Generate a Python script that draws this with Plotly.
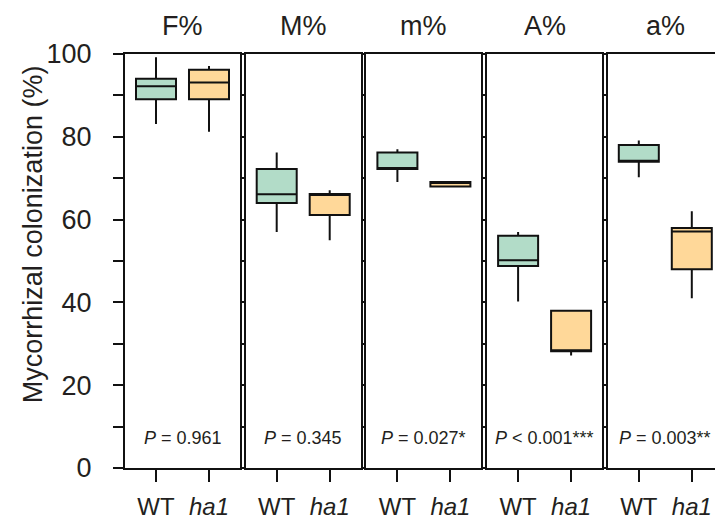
import plotly.graph_objects as go

categories = ["F%", "M%", "m%", "A%", "a%"]
groups = ["WT", "ha1"]

wt_min = [83.1, 57.0, 69.1, 40.2, 70.2]
wt_q1 = [89.1, 64.0, 72.2, 48.8, 74.0]
wt_med = [92.2, 66.1, 72.2, 50.2, 74.0]
wt_q3 = [94.0, 72.2, 76.2, 56.1, 78.0]
wt_max = [99.2, 76.2, 77.0, 57.0, 79.1]

ha1_min = [81.2, 55.0, 68.0, 27.2, 41.0]
ha1_q1 = [89.1, 61.1, 68.0, 28.2, 48.0]
ha1_med = [93.1, 66.2, 69.1, 28.2, 57.1]
ha1_q3 = [96.2, 66.2, 69.1, 38.0, 58.0]
ha1_max = [97.1, 67.1, 69.1, 38.0, 62.0]

p_labels = ["<i>P</i> = 0.961", "<i>P</i> = 0.345", "<i>P</i> = 0.027*",
            "<i>P</i> < 0.001***", "<i>P</i> = 0.003**"]

y_ticks = list(range(0, 101, 10))
y_ticktext = [str(v) if v % 20 == 0 else "" for v in y_ticks]

WT_FILL = "#b2dcc8"
HA1_FILL = "#ffd899"
INK = "#231f20"
FONT = "Liberation Sans, Arial, sans-serif"

W, H = 715, 520
ML, MR, MT, MB = 125, 0, 54, 49
PW = W - ML - MR
starts = [125, 245.7, 366.4, 487.1, 607.8]
pw = 115
unit = 115 / 2.17
x0 = -0.585

fig = go.Figure()
layout = dict(
    width=W, height=H,
    margin=dict(l=ML, r=MR, t=MT, b=MB),
    paper_bgcolor="white", plot_bgcolor="white",
    showlegend=False,
    font=dict(family=FONT, color=INK),
)

annotations = []
for i, cat in enumerate(categories):
    n = "" if i == 0 else str(i + 1)
    left = starts[i]
    right = min(left + pw, W)
    d0 = (left - ML) / PW
    d1 = (right - ML) / PW
    xr = [x0, x0 + (right - left) / unit]
    fig.add_trace(go.Box(
        x=[0], q1=[wt_q1[i]], median=[wt_med[i]], q3=[wt_q3[i]],
        lowerfence=[wt_min[i]], upperfence=[wt_max[i]],
        width=0.755, whiskerwidth=0, fillcolor=WT_FILL,
        line=dict(color="#111111", width=2),
        xaxis="x" + n, yaxis="y" + n, hoverinfo="skip"))
    fig.add_trace(go.Box(
        x=[1], q1=[ha1_q1[i]], median=[ha1_med[i]], q3=[ha1_q3[i]],
        lowerfence=[ha1_min[i]], upperfence=[ha1_max[i]],
        width=0.755, whiskerwidth=0, fillcolor=HA1_FILL,
        line=dict(color="#111111", width=2),
        xaxis="x" + n, yaxis="y" + n, hoverinfo="skip"))
    layout["xaxis" + n] = dict(
        domain=[d0, d1], range=xr, anchor="y" + n,
        showline=True, mirror=True, linecolor="#111111", linewidth=2,
        showgrid=False, zeroline=False,
        tickvals=[0, 1], ticktext=["WT", "<i>ha1</i>"],
        ticks="outside", ticklen=12, tickwidth=2, tickcolor="#111111",
        tickfont=dict(size=24, color=INK, family=FONT),
        ticklabelstandoff=4,
    )
    ya = dict(
        domain=[0, 1], range=[0, 100], anchor="x" + n,
        showline=True, mirror=(i < 4), linecolor="#111111", linewidth=2,
        showgrid=False, zeroline=False,
        tickvals=y_ticks, ticks="outside", tickwidth=2, tickcolor="#111111",
    )
    if i == 0:
        ya.update(ticklen=10, ticktext=y_ticktext,
                  tickfont=dict(size=27, color=INK, family=FONT),
                  ticklabelstandoff=16)
    else:
        ya.update(ticklen=3, showticklabels=False)
    layout["yaxis" + n] = ya
    annotations.append(dict(
        text=cat, xref="x" + n + " domain" if n else "x domain",
        x=(pw / 2) / (right - left), yref="paper", y=(471 - 25.5) / 417,
        showarrow=False, font=dict(size=27, color=INK, family=FONT),
        xanchor="center", yanchor="middle"))
    annotations.append(dict(
        text=p_labels[i], xref="x" + n + " domain" if n else "x domain",
        x=(pw / 2) / (right - left), yref="paper", y=(471 - 441) / 417,
        showarrow=False, font=dict(size=18, color=INK, family=FONT),
        xanchor="center", yanchor="middle"))

annotations.append(dict(
    text="Mycorrhizal colonization (%)", textangle=-90,
    xref="paper", x=(33 - ML) / PW, yref="paper", y=(471 - 235.5) / 417,
    showarrow=False, font=dict(size=27, color=INK, family=FONT),
    xanchor="center", yanchor="middle"))
layout["annotations"] = annotations

fig.update_layout(**layout)
fig.write_html("out.html")
